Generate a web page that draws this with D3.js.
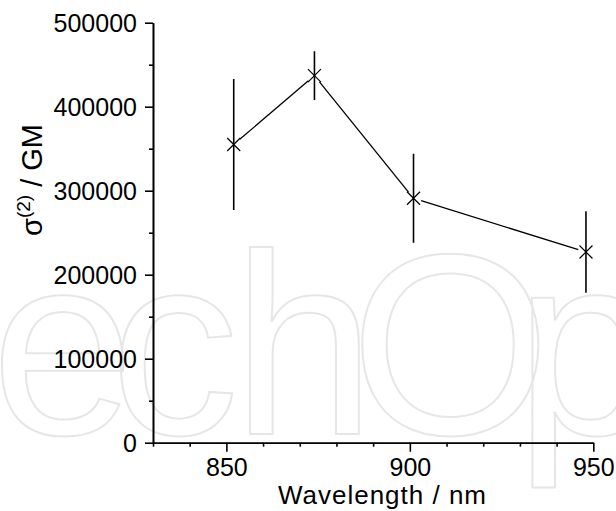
<!DOCTYPE html>
<html>
<head>
<meta charset="utf-8">
<script src="https://cdn.jsdelivr.net/npm/d3@7"></script>
<style>
  html, body { margin: 0; padding: 0; background: #fff; }
  svg { display: block; }
  text { font-family: "Liberation Sans", Arial, Helvetica, sans-serif; }
</style>
</head>
<body>
<svg id="chart" width="616" height="511"></svg>
<script>
// ---- data ----
const wavelength = [852, 874, 901, 948];            // nm
const sigma2     = [355000, 437000, 291000, 227000]; // GM
const sigmaErr   = [78000, 29000, 53000, 48500];     // GM (±)
const xMajorTicks = [850, 900, 950];
const xMinorTicks = [830, 840, 860, 870, 880, 890, 910, 920, 930, 940];
const yMajorTicks = [0, 100000, 200000, 300000, 400000, 500000];
const yMinorTicks = [50000, 150000, 250000, 350000, 450000];
const xLabel = "Wavelength / nm";
const watermark = "echOp";

(function () {
const svg = d3.select("#chart");
const mLeft = 153, mRight = 593.3, mTop = 22.7, mBottom = 442.7;

const x = d3.scaleLinear().domain([830, 950]).range([mLeft, mRight]);
const y = d3.scaleLinear().domain([0, 500000]).range([mBottom, mTop]);

// watermark (faint outlined logo text behind the chart); per-glyph origins
svg.append("text")
  .attr("transform", "translate(0,434)")
  .attr("x", "-9 110 232 350 515")
  .attr("y", 0)
  .attr("font-size", 258)
  .attr("fill", "none")
  .attr("stroke", "#e6e6e6")
  .attr("stroke-width", 2)
  .text(watermark);

// axes
const fontSize = 25;
const yAxis = d3.axisLeft(y).tickValues(yMajorTicks).tickSize(8).tickSizeOuter(0).tickPadding(8)
  .tickFormat(d3.format("d"));
const yMinor = d3.axisLeft(y).tickValues(yMinorTicks).tickSize(4).tickSizeOuter(0).tickFormat("");
const xAxis = d3.axisBottom(x).tickValues(xMajorTicks).tickSize(9).tickSizeOuter(0).tickPadding(7)
  .tickFormat(d3.format("d"));
const xMinor = d3.axisBottom(x).tickValues(xMinorTicks).tickSize(4).tickSizeOuter(0).tickFormat("");

function styleAxis(g) {
  g.selectAll("path.domain").attr("stroke", "#000").attr("stroke-width", 1.6);
  g.selectAll(".tick line").attr("stroke", "#000").attr("stroke-width", 1.6);
  g.selectAll(".tick text").attr("font-size", fontSize).attr("fill", "#000")
    .attr("font-family", "'Liberation Sans', Arial, sans-serif");
}

svg.append("g").attr("transform", `translate(${mLeft},0)`).call(yMinor).call(styleAxis);
svg.append("g").attr("transform", `translate(${mLeft},0)`).call(yAxis).call(styleAxis)
  .selectAll(".tick text").attr("dy", "0.36em");
svg.append("g").attr("transform", `translate(0,${mBottom})`).call(xMinor).call(styleAxis);
svg.append("g").attr("transform", `translate(0,${mBottom})`).call(xAxis).call(styleAxis);

// axis labels
svg.append("text")
  .attr("x", 382).attr("y", 504)
  .attr("text-anchor", "middle")
  .attr("font-size", 26)
  .attr("textLength", 208)
  .attr("lengthAdjust", "spacing")
  .attr("fill", "#000")
  .text(xLabel);

const yl = svg.append("text")
  .attr("transform", "translate(42,180) rotate(-90)")
  .attr("text-anchor", "middle")
  .attr("font-size", 29)
  .attr("fill", "#000");
yl.append("tspan").text("σ");
yl.append("tspan").attr("font-size", 19).attr("dy", -12).text("(2)");
yl.append("tspan").attr("dy", 12).text(" / GM");

// data
const pts = wavelength.map((w, i) => ({ w, v: sigma2[i], e: sigmaErr[i] }));

// connecting line with small gaps at markers
const gap = 8;
const segs = [];
for (let i = 0; i < pts.length - 1; i++) {
  const x1 = x(pts[i].w), y1 = y(pts[i].v), x2 = x(pts[i + 1].w), y2 = y(pts[i + 1].v);
  const L = Math.hypot(x2 - x1, y2 - y1), ux = (x2 - x1) / L, uy = (y2 - y1) / L;
  segs.push([x1 + ux * gap, y1 + uy * gap, x2 - ux * gap, y2 - uy * gap]);
}
svg.append("g").selectAll("line").data(segs).join("line")
  .attr("x1", d => d[0]).attr("y1", d => d[1]).attr("x2", d => d[2]).attr("y2", d => d[3])
  .attr("stroke", "#000").attr("stroke-width", 1.3);

// error bars
svg.append("g").selectAll("line").data(pts).join("line")
  .attr("x1", d => x(d.w)).attr("x2", d => x(d.w))
  .attr("y1", d => y(d.v + d.e)).attr("y2", d => y(d.v - d.e))
  .attr("stroke", "#000").attr("stroke-width", 1.6);

// X markers
const ms = 6.5;
svg.append("g").selectAll("path").data(pts).join("path")
  .attr("d", d => {
    const cx = x(d.w), cy = y(d.v);
    return `M${cx - ms},${cy - ms}L${cx + ms},${cy + ms}M${cx - ms},${cy + ms}L${cx + ms},${cy - ms}`;
  })
  .attr("stroke", "#000").attr("stroke-width", 1.2).attr("fill", "none");
})();
</script>
</body>
</html>
